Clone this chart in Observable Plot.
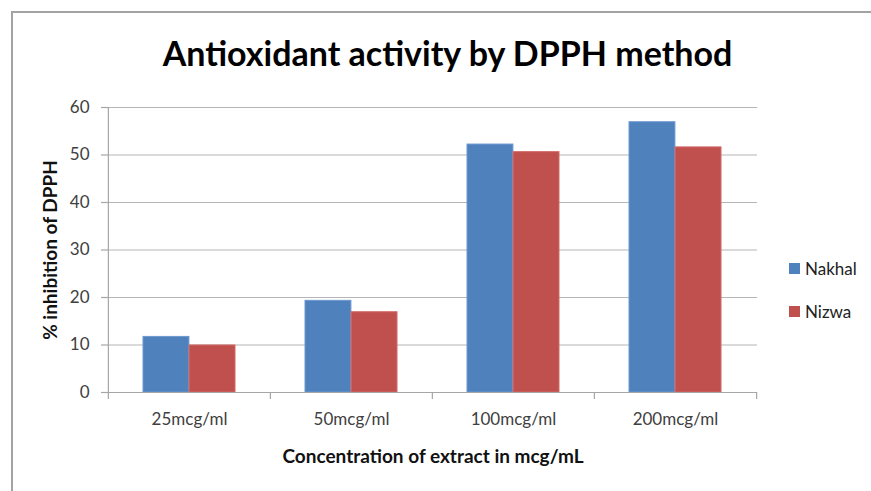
<!DOCTYPE html>
<html><head><meta charset="utf-8">
<script src="https://cdn.jsdelivr.net/npm/d3@7"></script>
<script src="https://cdn.jsdelivr.net/npm/@observablehq/plot@0.6"></script>
<style>
html,body{margin:0;padding:0;background:#fff;}
#wrap{position:relative;width:871px;height:491px;overflow:hidden;font-family:Lato,"Open Sans",sans-serif;}
#border{position:absolute;left:11px;top:11px;width:900px;height:520px;border-left:2px solid #a3a3a3;border-top:2px solid #a3a3a3;}
#chart{position:absolute;left:0;top:0;}
#title{position:absolute;left:0;width:895px;top:32px;text-align:center;font-weight:bold;font-size:34px;color:#000;white-space:nowrap;}
#legend{position:absolute;left:789px;top:247px;font-size:17px;color:#222;}
.item{display:flex;align-items:center;height:43px;}
.sw{width:11px;height:11px;margin-right:5px;}
</style></head>
<body><div id="wrap"><div id="border"></div><div id="chart"></div><div id="title"></div><div id="legend"></div></div>
<script>
const titleText = "Antioxidant activity by DPPH method";
const categories = ["25mcg/ml", "50mcg/ml", "100mcg/ml", "200mcg/ml"];
const seriesNames = ["Nakhal", "Nizwa"];
const nakhal = [11.7, 19.3, 52.2, 56.9];
const nizwa = [9.9, 16.9, 50.6, 51.6];
const colors = ["#4f81bd", "#c0504d"];
const yTicks = [0, 10, 20, 30, 40, 50, 60];
const yLabel = "% inhibition of DPPH";
const xLabel = "Concentration of extract in mcg/mL";

const W = 871, H = 491, mL = 108, mR = 114, mT = 107, mB = 99;
const pInner = 0.432, pOuter = 0.216;
const step = (W - mL - mR) / (categories.length - pInner + 2 * pOuter);
const half = step * (1 - pInner) / 2;

const rowsA = categories.map((c, i) => ({cat: c, v: nakhal[i]}));
const rowsB = categories.map((c, i) => ({cat: c, v: nizwa[i]}));
const gray = "#a6a6a6";

const chart = Plot.plot({
  width: W, height: H,
  marginLeft: mL, marginRight: mR, marginTop: mT, marginBottom: mB,
  style: {fontFamily: "Lato, 'Open Sans', sans-serif", background: "transparent", overflow: "visible"},
  x: {domain: categories, paddingInner: pInner, paddingOuter: pOuter, label: null},
  y: {domain: [0, 60], label: null},
  marks: [
    Plot.gridY(yTicks, {stroke: "#b5b5b5", strokeOpacity: 1, strokeWidth: 1.2}),
    Plot.barY(rowsA, {x: "cat", y: "v", fill: colors[0], stroke: "#6d98cf", strokeWidth: 1, insetRight: half}),
    Plot.barY(rowsB, {x: "cat", y: "v", fill: colors[1], stroke: "#d26a67", strokeWidth: 1, insetLeft: half}),
    Plot.ruleY([0], {stroke: gray, strokeWidth: 1.2}),
    Plot.ruleX(categories.slice(0, 1), {x: d => d, dx: -step / 2, y1: 0, y2: 60, stroke: gray, strokeWidth: 1.2}),
    Plot.ruleX(categories, {x: d => d, dx: -step / 2, y1: 0, y2: 0, insetBottom: -7, stroke: gray, strokeWidth: 1.2}),
    Plot.ruleX(categories.slice(-1), {x: d => d, dx: step / 2, y1: 0, y2: 0, insetBottom: -7, stroke: gray, strokeWidth: 1.2}),
    Plot.axisY({ticks: yTicks, tickSize: 7, tickPadding: 12, fontSize: 17, stroke: gray, strokeWidth: 1.2, fill: "#404040", label: null}),
    Plot.axisX({tickSize: 0, tickPadding: 20, fontSize: 17, fill: "#404040", label: null}),
    Plot.text([yLabel], {frameAnchor: "left", text: d => d, rotate: -90, dx: -58, textAnchor: "middle", lineAnchor: "middle", fontSize: 19, fontWeight: "bold", fill: "#111"}),
    Plot.text([xLabel], {frameAnchor: "bottom", text: d => d, dy: 64, textAnchor: "middle", lineAnchor: "middle", fontSize: 19, fontWeight: "bold", fill: "#111"})
  ]
});
document.getElementById("chart").appendChild(chart);
document.getElementById("title").textContent = titleText;
const lg = document.getElementById("legend");
seriesNames.forEach((s, i) => {
  const it = document.createElement("div"); it.className = "item";
  const sw = document.createElement("div"); sw.className = "sw"; sw.style.background = colors[i];
  const t = document.createElement("span"); t.textContent = s;
  it.appendChild(sw); it.appendChild(t); lg.appendChild(it);
});
</script></body></html>
